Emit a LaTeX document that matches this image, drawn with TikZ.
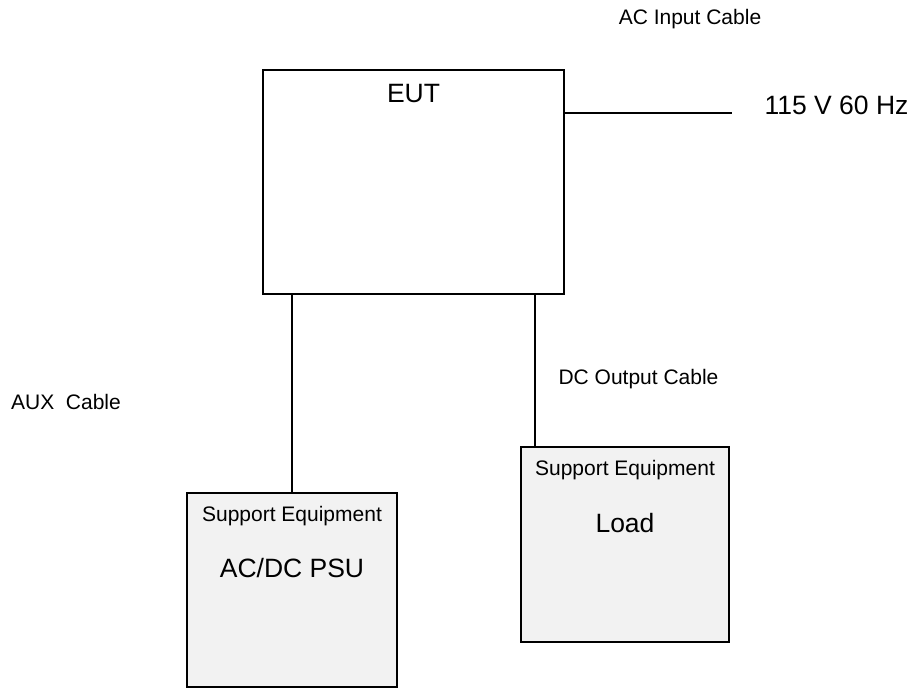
\documentclass[tikz,border=0pt]{standalone}
\usepackage{fontspec}
\setmainfont{Liberation Sans}
\begin{document}
\begin{tikzpicture}[x=1pt,y=-1pt,
  eutbox/.style={draw=black,line width=1.5pt,fill=white,inner sep=0pt},
  sebox/.style={draw=black,line width=2pt,fill=black!5,inner sep=0pt},
  cable/.style={draw=black,line width=1.5pt},
  small/.style={font=\fontsize{21}{25}\selectfont,anchor=base,inner sep=0pt},
  big/.style={font=\fontsize{26.5}{31}\selectfont,anchor=base,inner sep=0pt}]
\useasboundingbox (0,0) rectangle (913,688);
\node[eutbox,minimum width=301pt,minimum height=224pt] (eut) at (413.5,182) {};
\node[sebox,minimum width=210pt,minimum height=194pt] (psu) at (292,590) {};
\node[sebox,minimum width=208pt,minimum height=195pt] (load) at (625,544.5) {};
\coordinate (acend) at (732,113);
\coordinate (dcx) at (535,0);
\draw[cable] (eut.east |- acend) -- (acend);
\draw[cable] (psu.north |- eut.south) -- (psu.north);
\draw[cable] (dcx |- eut.south) -- (dcx |- load.north);
\node[big] (eutl) at (413.5,102) {EUT};
\node[small] (acl) at (690,24) {AC Input Cable};
\node[big] (volt) at (836.5,114) {115 V 60 Hz};
\node[small] (dcl) at (638.5,384) {DC Output Cable};
\node[small] (auxl) at (66,409) {AUX\ \ Cable};
\node[small] (psuse) at (292,521.5) {Support Equipment};
\node[big] (psul) at (292,577.5) {AC/DC PSU};
\node[small] (loadse) at (625,475.5) {Support Equipment};
\node[big] (loadl) at (625,532.5) {Load};
\end{tikzpicture}
\end{document}
